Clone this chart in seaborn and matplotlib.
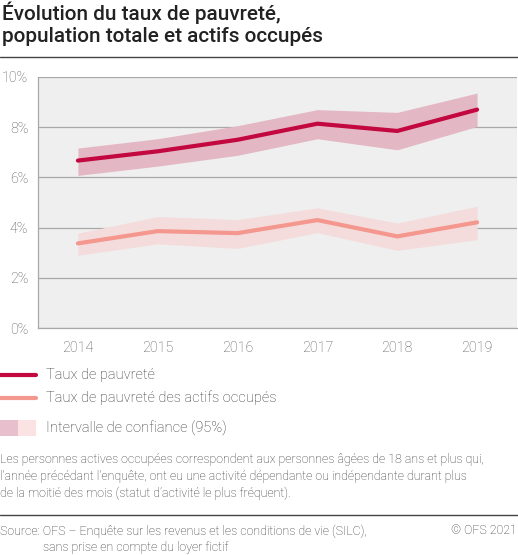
import numpy as np
import pandas as pd
import seaborn as sns
import matplotlib.pyplot as plt
from matplotlib.patches import Rectangle
from matplotlib.lines import Line2D

# --- DATA ---
years = [2014, 2015, 2016, 2017, 2018, 2019]
taux = [6.67, 7.04, 7.50, 8.14, 7.85, 8.70]
taux_low = [6.08, 6.45, 6.88, 7.54, 7.10, 8.03]
taux_high = [7.17, 7.54, 8.06, 8.70, 8.59, 9.36]
actifs = [3.37, 3.86, 3.78, 4.30, 3.65, 4.21]
actifs_low = [2.90, 3.35, 3.17, 3.80, 3.09, 3.52]
actifs_high = [3.78, 4.44, 4.32, 4.79, 4.18, 4.85]
series_names = ['Taux de pauvreté', 'Taux de pauvreté des actifs occupés']
y_ticks = [0, 2, 4, 6, 8, 10]

df = pd.DataFrame({
    'annee': years * 2,
    'valeur': taux + actifs,
    'serie': [series_names[0]] * 6 + [series_names[1]] * 6,
})

# --- STYLE ---
sns.set_style('white')
plt.rcParams['font.family'] = ['Roboto', 'DejaVu Sans']
dark = '#c3073f'
light = '#f4978e'
ci_dark = '#e3b7c4'
ci_light = '#f5dcdc'
grey_txt = '#555555'
txt_col = '#333333'

W, H = 518, 555
fig = plt.figure(figsize=(W / 100, H / 100), dpi=100)
renderer = fig.canvas.get_renderer()

def px(x0, y0, x1, y1):
    return [x0 / W, 1 - y1 / H, (x1 - x0) / W, (y1 - y0) / H]

def size_for(s, width_px, weight):
    # font size that makes string s about width_px wide
    t = fig.text(0, 0, s, fontsize=10, fontweight=weight)
    w = t.get_window_extent(renderer).width
    t.remove()
    return 10 * width_px / w

ax = fig.add_axes(px(38, 77, 517, 328))
ax.set_facecolor('#efefef')

ax.fill_between(years, taux_low, taux_high, color=ci_dark, lw=0, zorder=2)
ax.fill_between(years, actifs_low, actifs_high, color=ci_light, lw=0, zorder=2)
sns.lineplot(data=df, x='annee', y='valeur', hue='serie',
             palette={series_names[0]: dark, series_names[1]: light},
             linewidth=3, legend=False, ax=ax, zorder=3)

ax.set_xlim(2013.5, 2019.5)
ax.set_ylim(0, 10)
ax.set_yticks(y_ticks)
ax.set_yticklabels([f'{t}%' for t in y_ticks])
ax.set_xticks(years)
ax.set_xticklabels([str(y) for y in years])
ax.set_xticks([y + 0.5 for y in years[:-1]] + [2013.5], minor=True)
ax.set_xlabel('')
ax.set_ylabel('')
ax.grid(axis='y', color='#a8a8a8', lw=0.9, zorder=1)
ax.set_axisbelow(True)
for s in ['top', 'right']:
    ax.spines[s].set_visible(False)
for s in ['left', 'bottom']:
    ax.spines[s].set_color('#a8a8a8')
    ax.spines[s].set_linewidth(0.9)
ax.tick_params(axis='x', which='major', length=0, pad=9, labelsize=10.3, labelcolor=grey_txt)
ax.tick_params(axis='x', which='minor', length=4, color='#a8a8a8', width=0.9)
ax.tick_params(axis='y', length=4, color='#a8a8a8', width=0.9, pad=3,
               labelsize=10.3, labelcolor=grey_txt)
for lab in ax.get_xticklabels() + ax.get_yticklabels():
    lab.set_fontweight('light')

# --- TITLE ---
title1 = 'Évolution du taux de pauvreté,'
title2 = 'population totale et actifs occupés'
ts = (size_for(title1, 278, 'medium') + size_for(title2, 321, 'medium')) / 2
fig.text(2 / W, 1 - 13 / H, title1, fontsize=ts,
         fontweight='medium', color='#222222', va='center')
fig.text(2 / W, 1 - 37 / H, title2, fontsize=ts,
         fontweight='medium', color='#222222', va='center')
fig.add_artist(Line2D([0, 1], [1 - 57 / H, 1 - 57 / H], color='#444444', lw=1))

# --- LEGEND ---
fig.add_artist(Line2D([0, 36 / W], [1 - 375 / H] * 2, color=dark, lw=3))
fig.add_artist(Line2D([0, 36 / W], [1 - 398 / H] * 2, color=light, lw=3))
fig.add_artist(Rectangle((0, 1 - 436 / H), 18 / W, 16 / H, color='#e8bfcc', lw=0))
fig.add_artist(Rectangle((18 / W, 1 - 436 / H), 18 / W, 16 / H, color='#fbe3e3', lw=0))
for txt, yy in [(series_names[0], 375), (series_names[1], 398),
                ('Intervalle de confiance (95%)', 428)]:
    fig.text(46 / W, 1 - yy / H, txt, fontsize=10.5, fontweight='light',
             color=txt_col, va='center')

# --- NOTES ---
notes = ['Les personnes actives occupées correspondent aux personnes âgées de 18 ans et plus qui,',
         "l'année précédant l'enquête, ont eu une activité dépendante ou indépendante durant plus",
         "de la moitié des mois (statut d’activité le plus fréquent)."]
src1 = 'Source: OFS – Enquête sur les revenus et les conditions de vie (SILC),'
ns = (size_for(notes[0], 487, 'light') + size_for(src1, 368, 'light')) / 2
for i, line in enumerate(notes):
    fig.text(0, 1 - (460 + i * 16.5) / H, line, fontsize=ns, fontweight='light',
             color=txt_col, va='center')
fig.add_artist(Line2D([0, 1], [1 - 515 / H] * 2, color='#444444', lw=1))
fig.text(0, 1 - 531 / H, src1,
         fontsize=ns, fontweight='light', color=txt_col, va='center')
fig.text(43 / W, 1 - 547 / H, 'sans prise en compte du loyer fictif',
         fontsize=ns, fontweight='light', color=txt_col, va='center')
fig.text(517 / W, 1 - 531 / H, '© OFS 2021', fontsize=ns, fontweight='light',
         color=txt_col, va='center', ha='right')

fig.savefig('out.png', dpi=100)
